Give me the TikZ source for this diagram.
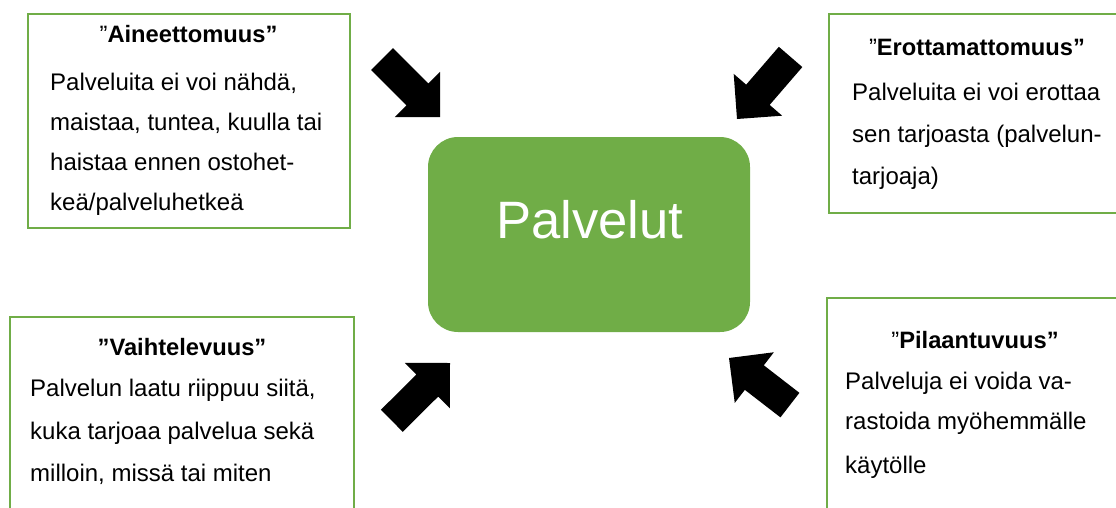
\documentclass[tikz,border=0pt]{standalone}
\usepackage{fontspec}
\setmainfont{Liberation Sans}
\definecolor{leaf}{RGB}{112,173,71}
\begin{document}
\begin{tikzpicture}[x=1pt,y=-1pt,
  frame/.style={draw=leaf,line width=2.2pt,inner sep=0pt,anchor=north west},
  head/.style={anchor=base,inner sep=0pt,font=\fontsize{23.7}{28}\selectfont},
  body/.style={anchor=base west,inner sep=0pt,font=\fontsize{24}{28}\selectfont},
  pics/bigarrow/.style={code={
    \fill[black] (0,0) -- (-32,32) -- (-32,15.5) -- (-#1,15.5)
      -- (-#1,-15.5) -- (-32,-15.5) -- (-32,-32) -- cycle;}}]
\useasboundingbox (0,0) rectangle (1116,507);
\clip (0,0) rectangle (1116,507);

% centre
\node[fill=leaf,rounded corners=30pt,minimum width=322pt,minimum height=195pt,inner sep=0pt] (core) at (589,234.5) {};
\node[anchor=base,inner sep=0pt,text=white,font=\fontsize{52.6}{60}\selectfont] (coretext) at (590,238) {Palvelut};

% top left
\node[frame,minimum width=322pt,minimum height=214pt] (box1) at (27,13) {};
\node[head] (t1) at (188.5,42) {”\textbf{Aineettomuus”}};
\node[body] (a1) at (50,90) {Palveluita ei voi nähdä,};
\node[body] (a2) at (50,130) {maistaa, tuntea, kuulla tai};
\node[body] (a3) at (50,170) {haistaa ennen ostohet-};
\node[body] (a4) at (50,210) {keä/palveluhetkeä};

% top right
\node[frame,minimum width=298pt,minimum height=199pt] (box2) at (828,13) {};
\node[head] (t2) at (977,55) {”\textbf{Erottamattomuus”}};
\node[body] (b1) at (852,100) {Palveluita ei voi erottaa};
\node[body] (b2) at (852,142) {sen tarjoasta (palvelun-};
\node[body] (b3) at (852,184) {tarjoaja)};

% bottom left
\node[frame,minimum width=344pt,minimum height=210pt] (box3) at (9,316) {};
\node[head] (t3) at (182,355) {\textbf{”Vaihtelevuus”}};
\node[body] (c1) at (30,396) {Palvelun laatu riippuu siitä,};
\node[body] (c2) at (30,439) {kuka tarjoaa palvelua sekä};
\node[body] (c3) at (30,481) {milloin, missä tai miten};

% bottom right
\node[frame,minimum width=298pt,minimum height=230pt] (box4) at (826,297) {};
\node[head] (t4) at (975,348) {”\textbf{Pilaantuvuus”}};
\node[body] (d1) at (845,389) {Palveluja ei voida va-};
\node[body] (d2) at (845,429) {rastoida myöhemmälle};
\node[body] (d3) at (845,473) {käytölle};

% arrows pointing at the centre
\pic[rotate=-45] at (440,117) {bigarrow=82};
\pic[rotate=-130.8] at (737,119) {bigarrow=82};
\pic[rotate=44.8] at (450,363) {bigarrow=82};
\pic[rotate=142.3] at (729,358) {bigarrow=77};
\end{tikzpicture}
\end{document}
